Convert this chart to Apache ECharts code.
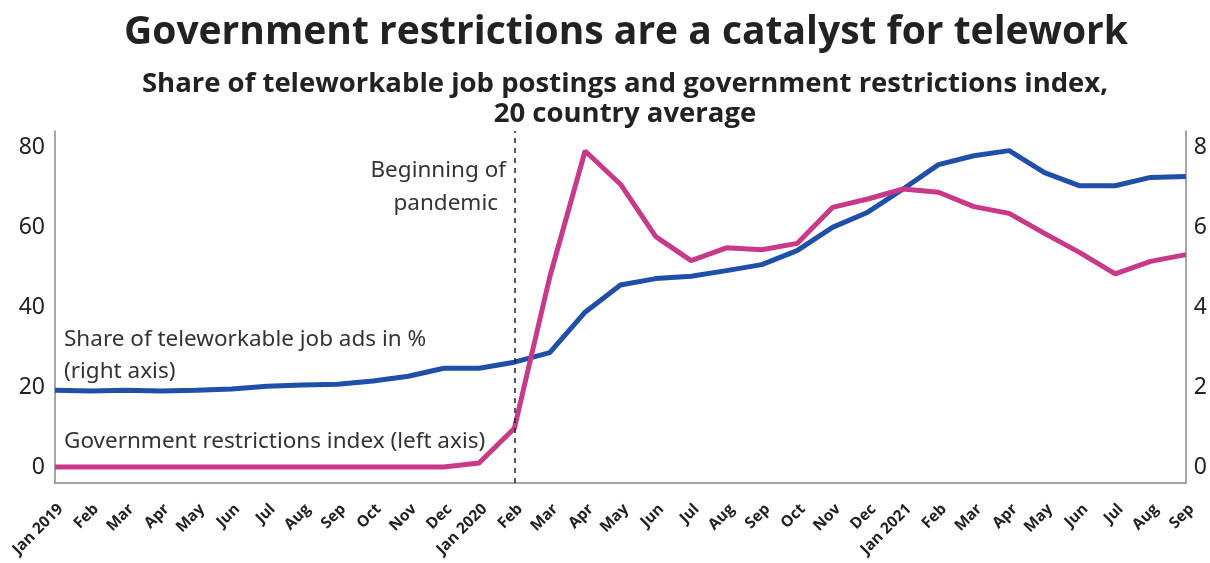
<!DOCTYPE html>
<html><head><meta charset="utf-8">
<script src="https://cdn.jsdelivr.net/npm/echarts@6/dist/echarts.min.js"></script>
<style>html,body{margin:0;padding:0;background:#fff}#c{width:1210px;height:563px}</style>
</head><body><div id="c"></div>
<script>
const categories = ['Jan 2019','Feb','Mar','Apr','May','Jun','Jul','Aug','Sep','Oct','Nov','Dec',
  'Jan 2020','Feb','Mar','Apr','May','Jun','Jul','Aug','Sep','Oct','Nov','Dec',
  'Jan 2021','Feb','Mar','Apr','May','Jun','Jul','Aug','Sep'];
const restrictionsIndex = [0,0,0,0,0,0,0,0,0,0,0,0,
  1,9.7,47.5,79,70.7,57.6,51.6,54.8,54.3,55.9,64.9,67.0,
  69.5,68.7,65.1,63.4,58.4,53.6,48.3,51.4,53.1];
const teleworkShare = [1.92,1.90,1.92,1.90,1.92,1.95,2.02,2.05,2.07,2.15,2.27,2.47,
  2.47,2.62,2.86,3.87,4.55,4.71,4.77,4.91,5.06,5.41,5.99,6.37,
  6.95,7.56,7.78,7.91,7.36,7.03,7.03,7.24,7.26];
const leftTicks = [0,20,40,60,80];
const rightTicks = [0,2,4,6,8];
const pandemicIndex = 13;

const chart = echarts.init(document.getElementById('c'));
const FONT = '"Noto Sans", "Open Sans", sans-serif';
const TFONT = '"Open Sans", "Noto Sans", sans-serif';
const ANN = '22.5px "Noto Sans", sans-serif';
chart.setOption({
  animation:false,
  textStyle:{fontFamily:FONT},
  title:[
    {text:'Government restrictions are a catalyst for telework', left:621, textAlign:'center', top:8,
     textStyle:{fontFamily:TFONT, fontSize:39, fontWeight:'bold', color:'#222'}},
    {text:'Share of teleworkable job postings and government restrictions index,', left:620, textAlign:'center', top:65,
     textStyle:{fontFamily:TFONT, fontSize:27.5, fontWeight:'bold', color:'#222'}},
    {text:'20 country average', left:620, textAlign:'center', top:95,
     textStyle:{fontFamily:TFONT, fontSize:27.5, fontWeight:'bold', color:'#222'}}
  ],
  grid:{left:55, right:22, top:131, bottom:80, containLabel:false},
  xAxis:{type:'category', data:categories, boundaryGap:false,
    axisLine:{onZero:false, lineStyle:{color:'#888', width:1.5}}, axisTick:{show:false},
    axisLabel:{rotate:45, interval:0, fontSize:15.5, fontWeight:'bold', color:'#222', margin:18,
      verticalAlign:'top', fontFamily:'"Open Sans", sans-serif'}},
  yAxis:[
    {type:'value', min:-4, max:84, interval:4, position:'left',
     axisLine:{show:true, lineStyle:{color:'#888', width:1.5}}, axisTick:{show:false}, splitLine:{show:false},
     axisLabel:{fontSize:23, color:'#222', margin:10,
       formatter:v=>{const r=Math.round(v); return (Math.abs(v-r)<1e-6 && leftTicks.includes(r)) ? String(r) : '';}}},
    {type:'value', min:-0.4, max:8.4, interval:0.4, position:'right',
     axisLine:{show:true, lineStyle:{color:'#888', width:1.5}}, axisTick:{show:false}, splitLine:{show:false},
     axisLabel:{fontSize:23, color:'#222', margin:8,
       formatter:v=>{const r=Math.round(v); return (Math.abs(v-r)<1e-6 && rightTicks.includes(r)) ? String(r) : '';}}}
  ],
  graphic:[
    {type:'text', right:1210-506, top:159, style:{text:'Beginning of', font:ANN, fill:'#333'}},
    {type:'text', right:1210-498, top:192, style:{text:'pandemic', font:ANN, fill:'#333'}},
    {type:'text', left:64, top:328, style:{text:'Share of teleworkable job ads in %', font:ANN, fill:'#333'}},
    {type:'text', left:64, top:360, style:{text:'(right axis)', font:ANN, fill:'#333'}},
    {type:'text', left:64, top:430, style:{text:'Government restrictions index (left axis)', font:ANN, fill:'#333'}}
  ],
  series:[
    {name:'Government restrictions index', type:'line', yAxisIndex:0, data:restrictionsIndex,
     symbol:'none', lineStyle:{color:'#c8398a', width:5}, z:3,
     markLine:{silent:true, symbol:'none', label:{show:false},
       lineStyle:{color:'#222', type:[5,5], width:1.5},
       data:[{xAxis:pandemicIndex}]}},
    {name:'Share of teleworkable job ads', type:'line', yAxisIndex:1, data:teleworkShare,
     symbol:'none', lineStyle:{color:'#1f4fa8', width:5}, z:2}
  ]
});
</script></body></html>
